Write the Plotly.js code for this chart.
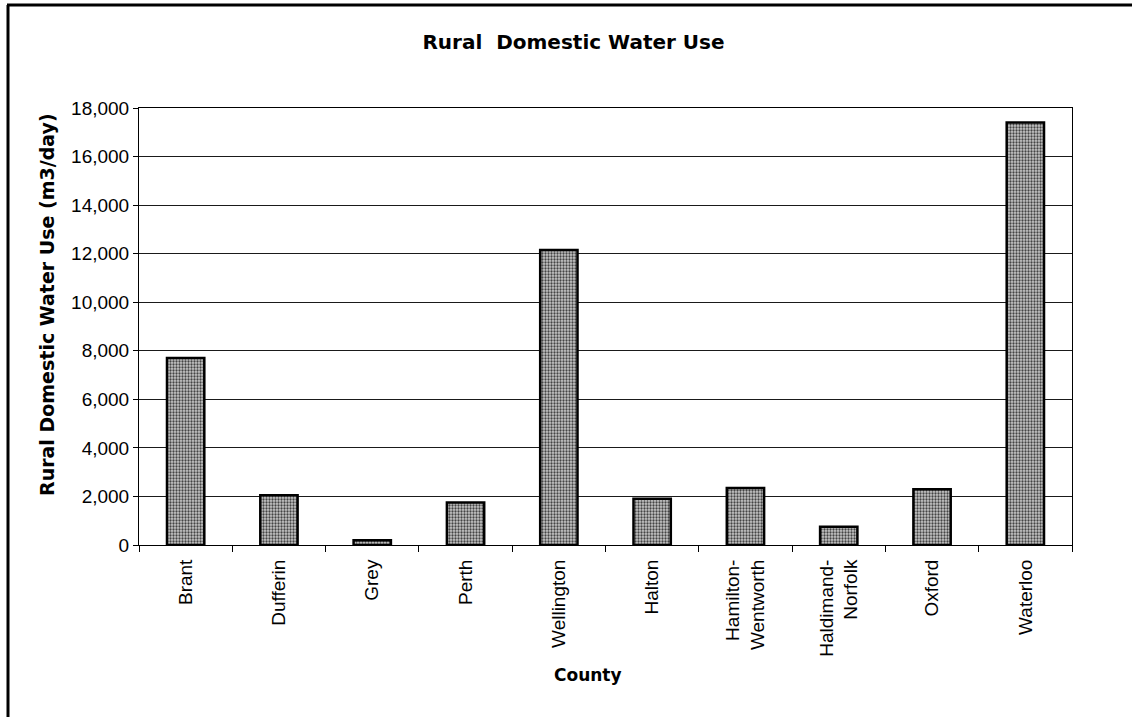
<!DOCTYPE html>
<html>
<head>
<meta charset="utf-8">
<script src="https://cdn.plot.ly/plotly-3.0.1.min.js"></script>
<style>
  html, body { margin: 0; padding: 0; background: #fff; }
  #chart { width: 1132px; height: 717px; }
</style>
</head>
<body>
<div id="chart"></div>
<script>
// Rural domestic water use by county (m3/day)
const counties = [
  "Brant", "Dufferin", "Grey", "Perth", "Wellington", "Halton",
  "Hamilton-<br>Wentworth", "Haldimand-<br>Norfolk", "Oxford", "Waterloo"
];
const waterUse = [7700, 2050, 200, 1750, 12150, 1900, 2350, 750, 2300, 17400];
const yTickValues = [0, 2000, 4000, 6000, 8000, 10000, 12000, 14000, 16000, 18000];

// Frame geometry (pixels)
const W = 1132, H = 717;
const M = { l: 139, r: 60, t: 108, b: 172 };
const PW = W - M.l - M.r, PH = H - M.t - M.b;
const px = x => (x - M.l) / PW;
const py = y => (H - M.b - y) / PH;

const boldFont = (size) => ({ family: "DejaVu Sans, Arial, sans-serif", size: size, color: "#000" });
const tickFont = { family: "Liberation Sans, Arial, sans-serif", size: 19, color: "#000" };

const trace = {
  type: "bar",
  x: counties,
  y: waterUse,
  marker: {
    color: "#c4c4c4",
    line: { color: "#000", width: 2.5 },
    pattern: { shape: ".", fgcolor: "#444", bgcolor: "#c8c8c8", size: 3, solidity: 0.45 }
  },
  hoverinfo: "x+y"
};

const layout = {
  width: W, height: H,
  margin: M,
  paper_bgcolor: "#fff",
  plot_bgcolor: "#fff",
  showlegend: false,
  bargap: 0.6,
  title: {
    text: "<b>Rural  Domestic Water Use</b>",
    font: boldFont(20),
    xref: "container", x: 573.5 / W, xanchor: "center",
    yref: "container", y: 1 - 42 / H, yanchor: "middle"
  },
  xaxis: {
    type: "category",
    tickangle: -90,
    tickson: "boundaries",
    ticks: "outside", ticklen: 6, tickcolor: "#000", tickwidth: 1,
    tickfont: tickFont,
    showline: true, linecolor: "#000", linewidth: 1, mirror: true,
    showgrid: false,
    ticklabelstandoff: 6
  },
  yaxis: {
    range: [0, 18000],
    tickvals: yTickValues,
    tickformat: ",d",
    ticks: "outside", ticklen: 5, tickcolor: "#000",
    tickfont: tickFont,
    showline: true, linecolor: "#000", linewidth: 1, mirror: true,
    showgrid: true, gridcolor: "#1a1a1a", gridwidth: 1,
    zeroline: false
  },
  annotations: [
    { text: "<b>County</b>", font: boldFont(17), showarrow: false,
      xref: "paper", yref: "paper", x: px(588), y: py(675),
      xanchor: "center", yanchor: "middle" },
    { text: "<b>Rural Domestic Water Use (m3/day)</b>", font: boldFont(19), showarrow: false,
      textangle: -90,
      xref: "paper", yref: "paper", x: px(47), y: py(305),
      xanchor: "center", yanchor: "middle" }
  ],
  shapes: [
    { type: "line", xref: "paper", yref: "paper",
      x0: px(7), x1: px(W), y0: py(5), y1: py(5),
      line: { color: "#000", width: 3 } },
    { type: "line", xref: "paper", yref: "paper",
      x0: px(8), x1: px(8), y0: py(5), y1: py(H),
      line: { color: "#000", width: 3 } }
  ]
};

Plotly.newPlot("chart", [trace], layout, { displayModeBar: false, staticPlot: true });
</script>
</body>
</html>
